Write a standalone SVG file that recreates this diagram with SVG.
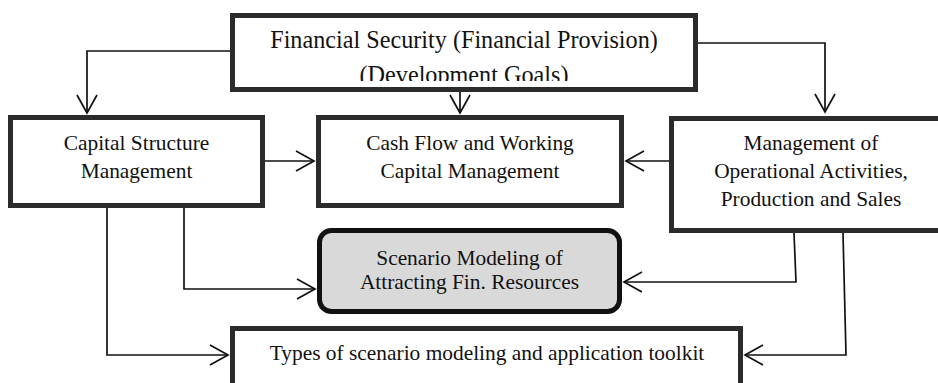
<svg xmlns="http://www.w3.org/2000/svg" width="938" height="383" viewBox="0 0 938 383">
<defs>
<style>
.box{fill:#fff;stroke:#2b2b2b;stroke-width:5}
.sc{fill:#d9d9d9;stroke:#111;stroke-width:5}
.t{font-family:"Liberation Serif","Times New Roman",serif;font-size:21.4px;fill:#111;text-anchor:middle}
.tt{font-size:24.2px}
.c{fill:none;stroke:#111;stroke-width:1.7}
</style>
<marker id="ah" markerUnits="userSpaceOnUse" markerWidth="22" markerHeight="24" viewBox="-2 -2 22 24" refX="18" refY="10" orient="auto">
<path d="M0,0 L18,10 L0,20" fill="none" stroke="#111" stroke-width="1.7"/>
</marker>
<clipPath id="topclip"><rect x="236" y="18" width="456" height="63"/></clipPath>
</defs>
<g id="connectors">
<path class="c" d="M232,51 H87 V113" marker-end="url(#ah)"/>
<path class="c" d="M460,92 V113" marker-end="url(#ah)"/>
<path class="c" d="M696,43 H825 V112" marker-end="url(#ah)"/>
<path class="c" d="M265,161 H314" marker-end="url(#ah)"/>
<path class="c" d="M669,161 H626" marker-end="url(#ah)"/>
<path class="c" d="M184,208 V289 H315" marker-end="url(#ah)"/>
<path class="c" d="M107,208 V355 H228" marker-end="url(#ah)"/>
<path class="c" d="M794,233 L796,282 H624" marker-end="url(#ah)"/>
<path class="c" d="M843,233 L846,355 H745" marker-end="url(#ah)"/>
</g>
<g id="top">
<rect class="box" x="232.5" y="15.5" width="463" height="74"/>
<g clip-path="url(#topclip)">
<text class="t tt" x="464" y="48">Financial Security (Financial Provision)</text>
<text class="t tt" x="464" y="83">(Development Goals)</text>
</g>
</g>
<g id="capital">
<rect class="box" x="10.5" y="117.5" width="252" height="88"/>
<text class="t" x="136.5" y="150">Capital Structure</text>
<text class="t" x="136.5" y="178">Management</text>
</g>
<g id="cashflow">
<rect class="box" x="318.5" y="117.5" width="303" height="88"/>
<text class="t" x="470" y="150">Cash Flow and Working</text>
<text class="t" x="470" y="178">Capital Management</text>
</g>
<g id="operational">
<rect class="box" x="671.5" y="118.5" width="290" height="112"/>
<text class="t" x="811" y="150">Management of</text>
<text class="t" x="811" y="178">Operational Activities,</text>
<text class="t" x="811" y="206">Production and Sales</text>
</g>
<g id="scenario">
<rect class="sc" x="319.5" y="230.5" width="300" height="81" rx="12" ry="12"/>
<text class="t" x="469.5" y="265">Scenario Modeling of</text>
<text class="t" x="469.5" y="289">Attracting Fin. Resources</text>
</g>
<g id="types">
<rect class="box" x="232.5" y="328.5" width="508" height="70"/>
<text class="t" x="487" y="360">Types of scenario modeling and application toolkit</text>
</g>
</svg>
